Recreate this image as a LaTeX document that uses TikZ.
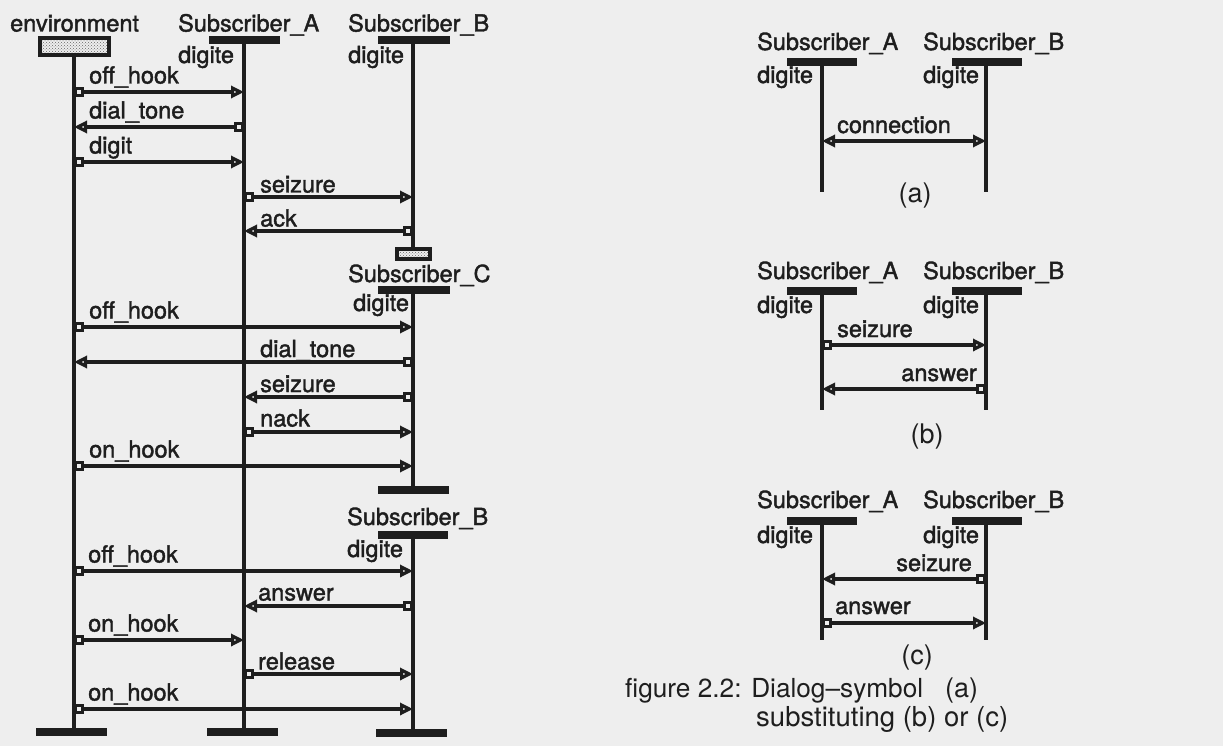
\documentclass[tikz,border=0pt]{standalone}
\usepackage{graphicx}
\usepackage{fontspec}
\usetikzlibrary{arrows.meta,patterns}
\newfontfamily\labfont{TeX Gyre Heros}[FakeBold=1.6]
\newfontfamily\capfont{TeX Gyre Heros}
\definecolor{ink}{RGB}{30,30,30}
\definecolor{paper}{RGB}{238,238,238}
\tikzset{
  life/.style={draw=ink,line width=3.6pt},
  bar/.style={draw=ink,line width=7.5pt},
  msg/.style={draw=ink,line width=3.2pt,{Square[open,length=10pt,width=10pt]}-{Triangle[open,length=13pt,width=12pt]}},
  dmsg/.style={draw=ink,line width=3.2pt,{Triangle[open,length=13pt,width=12pt]}-{Triangle[open,length=13pt,width=12pt]}},
  lbl/.style={inner sep=0pt,anchor=base west,text=ink,font=\labfont\fontsize{23.5}{27}\selectfont},
  lble/.style={lbl,anchor=base east},
  captxt/.style={inner sep=0pt,anchor=base west,text=ink,font=\capfont\fontsize{27}{32}\selectfont},
  captag/.style={captxt,anchor=base},
  hatchbox/.style={draw=ink,line width=4pt,pattern=crosshatch dots,pattern color=gray!80!black,inner sep=0pt},
}
\begin{document}
\begin{tikzpicture}[x=1pt,y=-1pt]
\fill[paper] (0,0) rectangle (1223,746);
\useasboundingbox (0,0) rectangle (1223,746);

% ---------- left chart: headers ----------
\node[lbl] (hEnv) at (10,31.5) {environment};
\node[lbl] (hA) at (178,31.5) {Subscriber\_A};
\node[lbl] (hB) at (348,31.5) {Subscriber\_B};
\node[hatchbox,minimum width=69pt,minimum height=17pt] (envbox) at (74,47) {};
\node[lbl] (dA) at (178,63) {digite};
\node[lbl] (dB) at (348,63) {digite};

% environment lifeline
\coordinate (envEnd) at (74,732);
\draw[life] (envbox.south) -- (envEnd);
\coordinate (envBL) at (36,732); \coordinate (envBR) at (107,732);
\draw[bar] (envBL) -- (envBR);

% Subscriber_A lifeline
\coordinate (Atop) at (244,40); \coordinate (Aend) at (244,732);
\coordinate (ATL) at (209,40); \coordinate (ATR) at (280,40);
\coordinate (ABL) at (207,732); \coordinate (ABR) at (278,732);
\draw[life] (Atop) -- (Aend);
\draw[bar] (ATL) -- (ATR);
\draw[bar] (ABL) -- (ABR);

% Subscriber_B (first) lifeline, ends in hatched box
\coordinate (Btop) at (413,40);
\coordinate (BTL) at (378,40); \coordinate (BTR) at (450,40);
\node[hatchbox,minimum width=33pt,minimum height=10pt] (bstop) at (413,253.5) {};
\draw[life] (Btop) -- (bstop.north);
\draw[bar] (BTL) -- (BTR);

% Subscriber_C
\node[lbl] (hC) at (348,282) {Subscriber\_C};
\node[lbl] (dC) at (353,311) {digite};
\coordinate (Ctop) at (413,290); \coordinate (Cend) at (413,490);
\coordinate (CTL) at (378,290); \coordinate (CTR) at (450,290);
\coordinate (CBL) at (378,490); \coordinate (CBR) at (449,490);
\draw[life] (Ctop) -- (Cend);
\draw[bar] (CTL) -- (CTR);
\draw[bar] (CBL) -- (CBR);

% Subscriber_B (second)
\node[lbl] (hB2) at (347,525) {Subscriber\_B};
\node[lbl] (dB2) at (347,557) {digite};
\coordinate (B2top) at (413,535); \coordinate (B2end) at (413,733);
\coordinate (B2TL) at (378,535); \coordinate (B2TR) at (448,535);
\coordinate (B2BL) at (376,733); \coordinate (B2BR) at (447,733);
\draw[life] (B2top) -- (B2end);
\draw[bar] (B2TL) -- (B2TR);
\draw[bar] (B2BL) -- (B2BR);

% ---------- left chart: messages ----------
\foreach \n/\sx/\tx/\y/\lab/\lx/\dy in {
  1/74/244/92/off\_hook/89/8.5,
  2/244/74/127/dial\_tone/89/8.5,
  3/74/244/162/digit/89/8.5,
  4/244/413/197/seizure/260/4.5,
  5/413/244/231/ack/260/4.5,
  6/74/413/327/off\_hook/89/8.5,
  7/413/74/362/dial\_tone/260/5,
  8/413/244/397/seizure/260/5,
  9/244/413/432/nack/260/5.5,
  10/74/413/466/on\_hook/89/8.5,
  11/74/413/571/off\_hook/88/8.5,
  12/413/244/606/answer/258/5.5,
  13/74/244/640/on\_hook/88/8.5,
  14/244/413/674/release/258/4.5,
  15/74/413/709/on\_hook/88/8.5}
{
  \coordinate (m\n-s) at (\sx,\y);
  \coordinate (m\n-t) at (\tx,\y);
  \draw[msg] (m\n-s) -- (m\n-t);
  \node[lbl] (m\n-l) at (\lx,\y-\dy) {\lab};
}

% ---------- right charts ----------
\foreach \k/\hy/\by/\dgy/\ey in {a/50/62/83/192, b/279/291/313/410, c/508/521/543/640}
{
  \node[lbl] (r\k-hA) at (757,\hy) {Subscriber\_A};
  \node[lbl] (r\k-hB) at (923,\hy) {Subscriber\_B};
  \node[lbl] (r\k-dA) at (757,\dgy) {digite};
  \node[lbl] (r\k-dB) at (923,\dgy) {digite};
  \coordinate (r\k-At) at (822,\by); \coordinate (r\k-Ae) at (822,\ey);
  \coordinate (r\k-Bt) at (986,\by); \coordinate (r\k-Be) at (986,\ey);
  \coordinate (r\k-AL) at (787,\by); \coordinate (r\k-AR) at (857,\by);
  \coordinate (r\k-BL) at (952,\by); \coordinate (r\k-BR) at (1022,\by);
  \draw[life] (r\k-At) -- (r\k-Ae);
  \draw[life] (r\k-Bt) -- (r\k-Be);
  \draw[bar] (r\k-AL) -- (r\k-AR);
  \draw[bar] (r\k-BL) -- (r\k-BR);
}

% (a) connection
\coordinate (ca-s) at (822,141); \coordinate (ca-t) at (986,141);
\draw[dmsg] (ca-s) -- (ca-t);
\node[lbl] (ca-l) at (837,133) {connection};
\node[captag] (tagA) at (915,203) {(a)};

% (b)
\coordinate (cb1-s) at (822,345); \coordinate (cb1-t) at (986,345);
\draw[msg] (cb1-s) -- (cb1-t);
\node[lbl] (cb1-l) at (837,337) {seizure};
\coordinate (cb2-s) at (986,389); \coordinate (cb2-t) at (822,389);
\draw[msg] (cb2-s) -- (cb2-t);
\node[lble] (cb2-l) at (977,381) {answer};
\node[captag] (tagB) at (927,443) {(b)};

% (c)
\coordinate (cc1-s) at (986,579); \coordinate (cc1-t) at (822,579);
\draw[msg] (cc1-s) -- (cc1-t);
\node[lble] (cc1-l) at (972,571) {seizure};
\coordinate (cc2-s) at (822,623); \coordinate (cc2-t) at (986,623);
\draw[msg] (cc2-s) -- (cc2-t);
\node[lbl] (cc2-l) at (835,614) {answer};
\node[captag] (tagC) at (917,664) {(c)};

% caption
\node[captxt] (cap1) at (625,697) {\resizebox{298pt}{!}{figure 2.2: Dialog–symbol}};
\node[captxt] (cap1b) at (945,697) {(a)};
\node[captxt] (cap2) at (756,726) {\resizebox{252pt}{!}{substituting (b) or (c)}};
\end{tikzpicture}
\end{document}
